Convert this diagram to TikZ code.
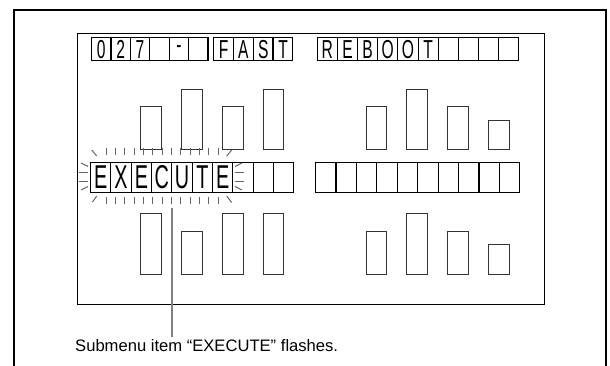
\documentclass[tikz,border=0pt]{standalone}
\usepackage{fontspec}
\setmainfont{Liberation Sans}
\usepackage{graphicx}
\begin{document}
\begin{tikzpicture}[x=1pt,y=-1pt,
  outerframe/.style={line width=1.8pt},
  innerframe/.style={line width=1pt},
  tcell/.style={draw, line width=1.1pt, minimum width=19.4pt, minimum height=22.7pt, inner sep=0pt, anchor=north west, font=\fontsize{26}{26}\selectfont},
  mcell/.style={draw, line width=1.1pt, minimum width=20.35pt, minimum height=30.2pt, inner sep=0pt, anchor=north west, font=\fontsize{33}{33}\selectfont},
  bar/.style={draw=black!80, line width=1pt},
  tick/.style={draw=black!60, line width=1pt},
  callout/.style={draw=black!50, line width=2pt},
  caption/.style={anchor=west, inner sep=0pt, font=\fontsize{16.6}{16.6}\selectfont}]
\fill[white] (0,0) rectangle (610,365);
\useasboundingbox (0,0) rectangle (610,365);
% frames
\draw[outerframe] (14,366) -- (14,10) -- (606,10) -- (606,366);
\draw[innerframe] (77,33) rectangle (544,304);
% top row
\foreach \c [count=\i from 0] in {0,2,7,{},-,{}}
  \node[tcell] (ta\i) at (91+\i*19.4,37.3) {\scalebox{0.6}[1]{\c}};
\foreach \c [count=\i from 0] in {F,A,S,T}
  \node[tcell] (tb\i) at (213.3+\i*19.85,37.3) {\scalebox{0.6}[1]{\c}};
\foreach \c [count=\i from 0] in {R,E,B,O,O,T,{},{},{},{}}
  \node[tcell, minimum width=20.16pt] (tc\i) at (316.7+\i*20.16,37.3) {\scalebox{0.6}[1]{\c}};
% middle row
\foreach \c [count=\i from 0] in {E,X,E,C,U,T,E,{},{},{}}
  \node[mcell] (ma\i) at (90+\i*20.33,161.5) {\scalebox{0.6}[1]{\c}};
\foreach \i in {0,...,9}
  \node[mcell] (mb\i) at (315+\i*20.43,161.5) {};
% upper bars
\foreach \x/\t in {140.7/106,181.7/89,222.7/106,263.3/89,366/106,406.7/89,447.7/106,488.7/120}
  \draw[bar] (\x,\t) rectangle (\x+20.5,149.5);
% lower bars
\foreach \x/\t in {140.7/213.3,181.7/231,222.7/213.3,263.3/213.3,366/231,406.7/213.3,447.7/231,488.7/244.3}
  \draw[bar] (\x,\t) rectangle (\x+20.5,274.5);
% flashing ticks
\foreach \i in {0,...,12} {
  \draw[tick] (106+\i*9.35,147.5) -- ++(0,7);
  \draw[tick] (106+\i*9.35,196.5) -- ++(0,7);
}
\draw[tick] (91.7,150) -- (96.7,156);
\draw[tick] (231.7,150) -- (226.7,156);
\draw[tick] (96.7,196) -- (92.5,202);
\draw[tick] (226.7,196) -- (231.7,202.5);
\draw[tick] (81,163) -- (88,166.5);
\draw[tick] (79,172) -- (88,172);
\draw[tick] (79,181) -- (88,181);
\draw[tick] (81,190) -- (88,186.5);
\draw[tick] (242,163) -- (235,166.5);
\draw[tick] (244,172) -- (235,172);
\draw[tick] (244,181) -- (235,181);
\draw[tick] (242,190) -- (235,186.5);
% callout
\coordinate (cstart) at (171.5,208);
\coordinate (cend) at (171.5,337);
\draw[callout] (cstart) -- (cend);
\node[caption] (cap) at (75,346) {Submenu item “EXECUTE” flashes.};
\end{tikzpicture}
\end{document}
